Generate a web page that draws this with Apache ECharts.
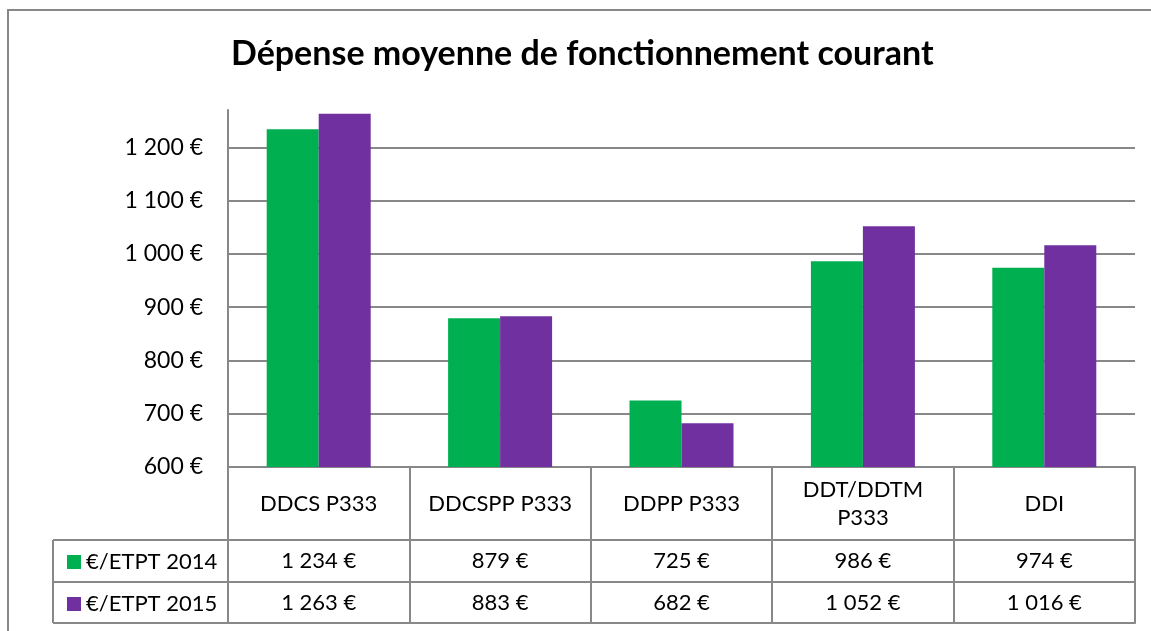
<!DOCTYPE html>
<html>
<head>
<meta charset="utf-8">
<script src="https://cdn.jsdelivr.net/npm/echarts@6/dist/echarts.min.js"></script>
<style>html,body{margin:0;padding:0;background:#fff;}#c{width:1151px;height:631px;}</style>
</head>
<body>
<div id="c"></div>
<script>
const categories = ['DDCS P333', 'DDCSPP P333', 'DDPP P333', 'DDT/DDTM\nP333', 'DDI'];
const seriesNames = ['€/ETPT 2014', '€/ETPT 2015'];
const values2014 = [1234, 879, 725, 986, 974];
const values2015 = [1263, 883, 682, 1052, 1016];
const yTicks = { min: 600, max: 1270, interval: 100 };
const chartTitle = 'Dépense moyenne de fonctionnement courant';

const NB = '\u00a0';
const fmt = v => String(Math.round(v)).replace(/\B(?=(\d{3})+(?!\d))/g, NB) + NB + '€';

const FONT = 'Lato';
const GRAY = '#888888';
const GREEN = '#00B050';
const PURPLE = '#7030A0';

const chart = echarts.init(document.getElementById('c'));

const baseX = {
  type: 'category',
  data: categories,
  position: 'bottom',
  gridIndex: 0,
  axisLine: { show: true, lineStyle: { color: GRAY, width: 2 } },
  axisTick: { show: true, interval: 0, alignWithLabel: false, inside: false, lineStyle: { color: GRAY, width: 2 } },
  splitLine: { show: false },
  axisLabel: { interval: 0, color: '#000', fontFamily: FONT, fontSize: 22, verticalAlign: 'middle', lineHeight: 28 }
};

const option = {
  animation: false,
  backgroundColor: '#fff',
  textStyle: { fontFamily: FONT },
  title: {
    text: chartTitle,
    left: 226,
    top: 32,
    textStyle: { fontFamily: FONT, fontWeight: 'bold', fontSize: 34, color: '#000' }
  },
  legend: {
    orient: 'vertical',
    left: 62,
    top: 546,
    icon: 'rect',
    itemWidth: 14,
    itemHeight: 14,
    itemGap: 20,
    textStyle: { fontFamily: FONT, fontSize: 22, color: '#000', lineHeight: 22 },
    data: seriesNames
  },
  grid: { left: 228, right: 16, top: 110, bottom: 164, containLabel: false },
  xAxis: [
    Object.assign({}, baseX, {
      axisTick: Object.assign({}, baseX.axisTick, { length: 73 }),
      axisLabel: Object.assign({}, baseX.axisLabel, { margin: 37 })
    }),
    Object.assign({}, baseX, {
      offset: 73,
      axisTick: Object.assign({}, baseX.axisTick, { length: 42 }),
      axisLabel: Object.assign({}, baseX.axisLabel, { margin: 21, formatter: (v, i) => fmt(values2014[i]) })
    }),
    Object.assign({}, baseX, {
      offset: 115,
      axisTick: Object.assign({}, baseX.axisTick, { length: 41 }),
      axisLabel: Object.assign({}, baseX.axisLabel, { margin: 21, formatter: (v, i) => fmt(values2015[i]) })
    }),
    Object.assign({}, baseX, {
      offset: 156,
      axisTick: { show: false },
      axisLabel: { show: false }
    })
  ],
  yAxis: {
    type: 'value',
    min: yTicks.min,
    max: yTicks.max,
    interval: yTicks.interval,
    axisLine: { show: true, lineStyle: { color: GRAY, width: 2 } },
    axisTick: { show: false },
    axisLabel: { color: '#000', fontFamily: FONT, fontSize: 23, margin: 25, showMaxLabel: false, formatter: v => fmt(v) },
    splitLine: { show: true, showMaxLine: false, lineStyle: { color: GRAY, width: 2 } }
  },
  series: [
    { name: seriesNames[0], type: 'bar', xAxisIndex: 0, data: values2014, barWidth: 52, barGap: '0%', itemStyle: { color: GREEN } },
    { name: seriesNames[1], type: 'bar', xAxisIndex: 0, data: values2015, barWidth: 52, barGap: '0%', itemStyle: { color: PURPLE } }
  ],
  graphic: [
    { type: 'rect', shape: { x: 8, y: 10, width: 1170, height: 660 }, style: { fill: 'none', stroke: GRAY, lineWidth: 2 }, silent: true, z: -1 },
    { type: 'line', shape: { x1: 53, y1: 540, x2: 228, y2: 540 }, style: { stroke: GRAY, lineWidth: 2 }, silent: true },
    { type: 'line', shape: { x1: 53, y1: 582, x2: 228, y2: 582 }, style: { stroke: GRAY, lineWidth: 2 }, silent: true },
    { type: 'line', shape: { x1: 53, y1: 623, x2: 228, y2: 623 }, style: { stroke: GRAY, lineWidth: 2 }, silent: true },
    { type: 'line', shape: { x1: 53, y1: 540, x2: 53, y2: 623 }, style: { stroke: GRAY, lineWidth: 2 }, silent: true }
  ]
};
chart.setOption(option);
</script>
</body>
</html>
